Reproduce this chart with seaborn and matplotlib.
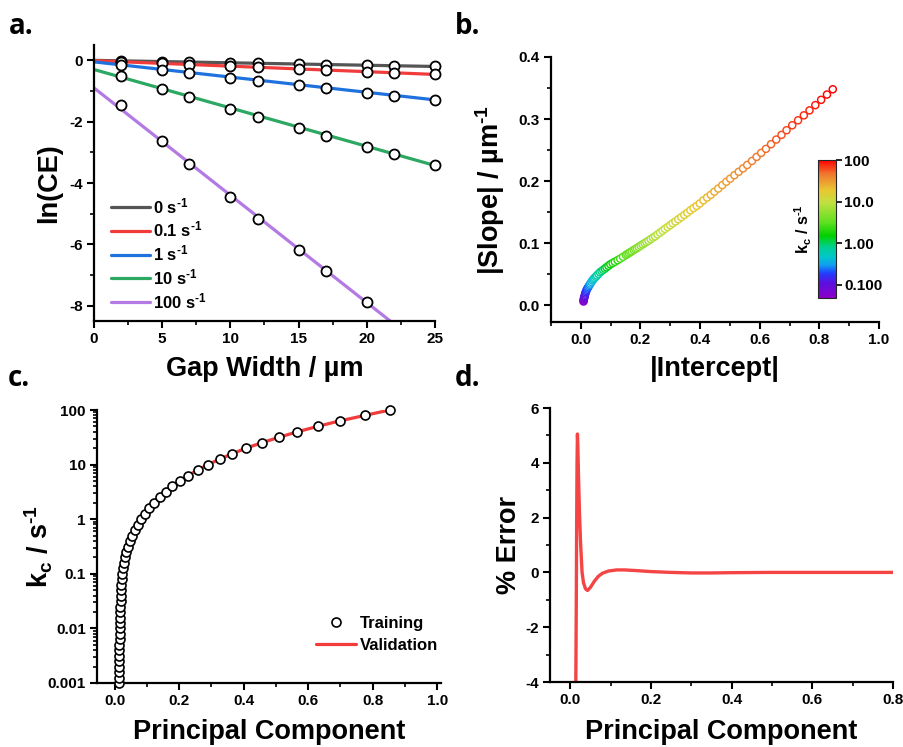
import matplotlib
matplotlib.use("Agg")
import matplotlib.pyplot as plt
import seaborn as sns
from matplotlib.colors import LogNorm, LinearSegmentedColormap
from matplotlib.ticker import MultipleLocator, FixedLocator, FixedFormatter, LogLocator, NullFormatter
from matplotlib.cm import ScalarMappable
from matplotlib.lines import Line2D

# ---- panel a: ln(CE) vs gap width ----
a_labels = ["0 s$^{\u20101}$", "0.1 s$^{\u20101}$", "1 s$^{\u20101}$", "10 s$^{\u20101}$", "100 s$^{\u20101}$"]
a_colors = ["#555555", "#f23c3c", "#1f72de", "#2ca862", "#b47ae4"]
a_fit_gap = [0, 25]
a_fit = [
    [0.0, -0.20],
    [-0.01, -0.46],
    [-0.05, -1.29],
    [-0.30, -3.43],
    [-0.90, -9.65],
]
a_gap = [2, 5, 7, 10, 12, 15, 17, 20, 22, 25]
a_sim = [
    [-0.02, -0.04, -0.06, -0.08, -0.10, -0.12, -0.14, -0.16, -0.18, -0.20],
    [-0.05, -0.10, -0.14, -0.19, -0.23, -0.29, -0.32, -0.38, -0.41, -0.46],
    [-0.16, -0.32, -0.41, -0.57, -0.66, -0.81, -0.91, -1.05, -1.15, -1.29],
    [-0.51, -0.93, -1.20, -1.60, -1.86, -2.22, -2.47, -2.83, -3.07, -3.42],
    [-1.47, -2.64, -3.38, -4.45, -5.16, -6.17, -6.86, -7.88],
]

# ---- panel b: |slope| vs |intercept| coloured by kc ----
b_kc = [0.0501, 0.0562, 0.0631, 0.0708, 0.0794, 0.0891, 0.100, 0.112, 0.126, 0.141,
        0.158, 0.178, 0.200, 0.224, 0.251, 0.282, 0.316, 0.355, 0.398, 0.447,
        0.501, 0.562, 0.631, 0.708, 0.794, 0.891, 1.00, 1.12, 1.26, 1.41,
        1.58, 1.78, 2.00, 2.24, 2.51, 2.82, 3.16,
        3.35, 3.55, 3.76, 3.98, 4.22, 4.47, 4.73, 5.01, 5.31, 5.62,
        5.96, 6.31, 6.68, 7.08, 7.50, 7.94, 8.41, 8.91, 9.44, 10.0,
        10.6, 11.2, 11.9, 12.6, 13.3, 14.1, 15.0, 15.8, 16.8, 17.8,
        18.8, 20.0, 21.1, 22.4, 23.7, 25.1, 26.6, 28.2, 29.9, 31.6,
        33.5, 35.5, 37.6, 39.8, 42.2, 44.7, 47.3, 50.1, 53.1, 56.2,
        59.6, 63.1, 66.8, 70.8, 75.0, 79.4, 84.1, 89.1, 94.4, 100]
b_intercept = [0.009, 0.0095, 0.010, 0.0105, 0.011, 0.012, 0.013, 0.014, 0.015, 0.0165,
               0.018, 0.020, 0.022, 0.0245, 0.027, 0.0295, 0.032, 0.0355, 0.039, 0.0425,
               0.046, 0.050, 0.054, 0.059, 0.064, 0.0695, 0.075, 0.0805, 0.086, 0.0925,
               0.099, 0.1065, 0.114, 0.123, 0.132, 0.1415, 0.151,
               0.156, 0.161, 0.166, 0.171, 0.177, 0.1825, 0.188, 0.194, 0.2005, 0.207,
               0.2135, 0.220, 0.227, 0.2345, 0.242, 0.249, 0.257, 0.2655, 0.274, 0.282,
               0.291, 0.2995, 0.308, 0.317, 0.327, 0.337, 0.347, 0.357, 0.3675, 0.378,
               0.3885, 0.399, 0.411, 0.4235, 0.436, 0.448, 0.461, 0.4745, 0.488, 0.501,
               0.515, 0.5295, 0.544, 0.558, 0.574, 0.5895, 0.605, 0.621, 0.638, 0.6555,
               0.673, 0.690, 0.709, 0.7285, 0.748, 0.767, 0.7865, 0.806, 0.8255, 0.845]
b_slope = [0.006, 0.0075, 0.009, 0.0105, 0.012, 0.0135, 0.015, 0.017, 0.019, 0.021,
           0.023, 0.025, 0.027, 0.029, 0.031, 0.033, 0.035, 0.0375, 0.040, 0.042,
           0.044, 0.046, 0.048, 0.0505, 0.053, 0.055, 0.057, 0.059, 0.061, 0.0635,
           0.066, 0.068, 0.070, 0.0725, 0.075, 0.078, 0.081,
           0.0825, 0.084, 0.0855, 0.087, 0.089, 0.0905, 0.092, 0.094, 0.096, 0.098,
           0.100, 0.102, 0.104, 0.1065, 0.109, 0.111, 0.114, 0.117, 0.120, 0.123,
           0.126, 0.129, 0.132, 0.135, 0.1385, 0.142, 0.1455, 0.149, 0.153, 0.1565,
           0.160, 0.164, 0.169, 0.1735, 0.178, 0.183, 0.188, 0.1935, 0.199, 0.204,
           0.2095, 0.215, 0.2205, 0.226, 0.2325, 0.239, 0.2455, 0.252, 0.2595, 0.267,
           0.2745, 0.282, 0.290, 0.298, 0.306, 0.314, 0.3225, 0.331, 0.3395, 0.348]
cbar_ticks = [0.1, 1, 10, 100]
cbar_ticklabels = ["0.100", "1.00", "10.0", "100"]

# ---- panel c: kc vs principal component ----
c_kc = [0.001, 0.00126, 0.00158, 0.002, 0.00251, 0.00316, 0.00398, 0.00501, 0.00631, 0.00794,
        0.01, 0.0126, 0.0158, 0.02, 0.0251, 0.0316, 0.0398, 0.0501, 0.0631, 0.0794,
        0.1, 0.126, 0.158, 0.2, 0.251, 0.316, 0.398, 0.501, 0.631, 0.794,
        1, 1.26, 1.58, 2, 2.51, 3.16, 3.98, 5.01, 6.31, 7.94,
        10, 12.6, 15.8, 20, 25.1, 31.6, 39.8, 50.1, 63.1, 79.4, 100]
c_pc = [0.0135, 0.0136, 0.0137, 0.0138, 0.0140, 0.0141, 0.0143, 0.0145, 0.0148, 0.0151,
        0.0154, 0.0158, 0.0162, 0.0167, 0.0173, 0.0180, 0.0188, 0.0197, 0.0208, 0.0221,
        0.0236, 0.0255, 0.028, 0.031, 0.036, 0.041, 0.048, 0.055, 0.063, 0.073,
        0.083, 0.094, 0.107, 0.122, 0.140, 0.159, 0.179, 0.202, 0.228, 0.257,
        0.290, 0.325, 0.365, 0.407, 0.456, 0.509, 0.566, 0.629, 0.698, 0.775, 0.853]
c_yticks = [0.001, 0.01, 0.1, 1, 10, 100]
c_yticklabels = ["0.001", "0.01", "0.1", "1", "10", "100"]

# ---- panel d: % error vs principal component ----
d_pc = [0.0137, 0.0150, 0.0160, 0.0170, 0.0180, 0.0190, 0.0205, 0.0230, 0.0260, 0.0295,
        0.0330, 0.0380, 0.0430, 0.0500, 0.0600, 0.0700, 0.0800, 0.0950, 0.115, 0.135,
        0.160, 0.200, 0.250, 0.300, 0.350, 0.400, 0.500, 0.600, 0.800]
d_err = [-4.6, -1.5, 1.6, 4.0, 5.05, 4.6, 3.6, 2.2, 1.0, 0.0,
         -0.38, -0.6, -0.66, -0.55, -0.32, -0.14, -0.03, 0.05, 0.09, 0.09,
         0.07, 0.03, 0.0, -0.02, -0.02, -0.01, 0.0, 0.0, 0.0]

sns.set_style("ticks")
plt.rcParams["font.family"] = ["Liberation Sans", "DejaVu Sans"]
plt.rcParams["font.weight"] = "bold"
plt.rcParams["axes.labelweight"] = "bold"
plt.rcParams["text.color"] = "black"
plt.rcParams["axes.labelcolor"] = "black"
plt.rcParams["axes.unicode_minus"] = False
plt.rcParams["mathtext.fontset"] = "custom"
plt.rcParams["mathtext.rm"] = "Liberation Sans:bold"
plt.rcParams["mathtext.it"] = "Liberation Sans:bold"
plt.rcParams["mathtext.bf"] = "Liberation Sans:bold"
plt.rcParams["mathtext.default"] = "rm"

W, H = 904, 747
fig = plt.figure(figsize=(W / 100, H / 100), dpi=100)


def px_axes(left, top, right, bottom):
    return fig.add_axes([left / W, 1 - bottom / H, (right - left) / W, (bottom - top) / H])


def style_axes(ax, xlab_y, ylab_x):
    sns.despine(ax=ax)
    for side in ["left", "bottom"]:
        ax.spines[side].set_linewidth(1.6)
        ax.spines[side].set_color("black")
    ax.tick_params(which="major", length=5, width=1.5, labelsize=11, colors="black", pad=3)
    ax.tick_params(which="minor", length=3, width=1.2, colors="black")
    for lab in ax.get_xticklabels() + ax.get_yticklabels():
        lab.set_fontweight("bold")
    ax.xaxis.set_label_coords(0.5, xlab_y)
    ax.yaxis.set_label_coords(ylab_x, 0.5)


label_kw = dict(fontsize=19.5, fontweight="bold")
sup = "$^{\u20101}$"

# Panel a
ax_a = px_axes(94, 45, 435, 321)
for lab, col, fit, sim in zip(a_labels, a_colors, a_fit, a_sim):
    sns.lineplot(x=a_fit_gap, y=fit, color=col, lw=2.3, ax=ax_a, label=lab)
    sns.scatterplot(x=a_gap[:len(sim)], y=sim, color="white", edgecolor="black",
                    s=52, linewidth=1.3, ax=ax_a, zorder=3, legend=False, clip_on=False)
ax_a.set_xlim(0, 25)
ax_a.set_ylim(-8.5, 0.5)
ax_a.xaxis.set_major_locator(MultipleLocator(5))
ax_a.xaxis.set_minor_locator(MultipleLocator(2.5))
ax_a.yaxis.set_major_locator(MultipleLocator(2))
ax_a.yaxis.set_minor_locator(MultipleLocator(1))
ax_a.set_xlabel("Gap Width / µm", **label_kw)
ax_a.set_ylabel("ln(CE)", **label_kw)
ax_a.legend(loc="lower left", bbox_to_anchor=(0.02, 0.0), frameon=False,
            handlelength=2.35, handletextpad=0.2, labelspacing=0.23, borderaxespad=0.2,
            prop={"weight": "bold", "size": 12})
style_axes(ax_a, -0.125, -0.094)

# Panel b
cmap = LinearSegmentedColormap.from_list("origin_rainbow", [
    (0.0, "#8a00c8"), (0.11, "#5a10e0"), (0.18, "#2040ff"), (0.24, "#10a0f0"),
    (0.30, "#00c8c8"), (0.37, "#00d090"), (0.45, "#00d000"), (0.55, "#60e020"),
    (0.69, "#c0e040"), (0.78, "#e8c830"), (0.90, "#f07830"), (1.0, "#ff0000")])
norm = LogNorm(vmin=0.048, vmax=100)

ax_b = px_axes(551, 57, 879, 322)
sns.scatterplot(x=b_intercept, y=b_slope, hue=b_kc, hue_norm=norm, palette=cmap,
                s=26, linewidth=1.05, legend=False, ax=ax_b)
pts = ax_b.collections[-1]
pts.set_edgecolors(pts.get_facecolors())
pts.set_facecolors("white")
ax_b.set_xlim(-0.1, 1.0)
ax_b.set_ylim(-0.027, 0.4)
ax_b.xaxis.set_major_locator(MultipleLocator(0.2))
ax_b.xaxis.set_minor_locator(MultipleLocator(0.1))
ax_b.yaxis.set_major_locator(MultipleLocator(0.1))
ax_b.yaxis.set_minor_locator(MultipleLocator(0.05))
ax_b.set_xlabel("|Intercept|", **label_kw)
ax_b.set_ylabel("|Slope| / µm" + sup, **label_kw)
style_axes(ax_b, -0.128, -0.134)

cax = px_axes(818, 160, 836, 298)
cb = fig.colorbar(ScalarMappable(norm=norm, cmap=cmap), cax=cax)
cb.outline.set_linewidth(0.8)
cb.set_ticks(cbar_ticks)
cb.set_ticklabels(cbar_ticklabels)
cb.minorticks_off()
cax.tick_params(length=4, width=1.2, labelsize=11, colors="black", pad=2)
for lab in cax.get_yticklabels():
    lab.set_fontweight("bold")
cax.yaxis.set_label_position("left")
cax.set_ylabel("k$_c$ / s" + sup, fontsize=11.5, fontweight="bold", labelpad=3)

# Panel c
ax_c = px_axes(97, 410, 441, 683)
sns.lineplot(x=c_pc, y=c_kc, color="#f23c3c", lw=2.3, ax=ax_c, zorder=2)
sns.scatterplot(x=c_pc, y=c_kc, color="white", edgecolor="black", s=42, linewidth=1.2,
                ax=ax_c, zorder=3, clip_on=False)
ax_c.set_yscale("log")
ax_c.set_xlim(-0.055, 1.012)
ax_c.set_ylim(0.001, 100)
ax_c.xaxis.set_major_locator(MultipleLocator(0.2))
ax_c.xaxis.set_minor_locator(MultipleLocator(0.1))
ax_c.yaxis.set_major_locator(FixedLocator(c_yticks))
ax_c.yaxis.set_major_formatter(FixedFormatter(c_yticklabels))
ax_c.yaxis.set_minor_locator(LogLocator(base=10, subs=range(2, 10), numticks=20))
ax_c.yaxis.set_minor_formatter(NullFormatter())
ax_c.set_xlabel("Principal Component", **label_kw)
ax_c.set_ylabel("k$_c$ / s" + sup, **label_kw)
handles = [Line2D([], [], ls="none", marker="o", markerfacecolor="white", markeredgecolor="black",
                  markersize=6.5, markeredgewidth=1.2),
           Line2D([], [], color="#f23c3c", lw=2.3)]
ax_c.legend(handles, ["Training", "Validation"], loc="lower right", bbox_to_anchor=(1.01, 0.085),
            frameon=False, handlelength=2.4, handletextpad=0.2, labelspacing=0.42,
            borderaxespad=0, prop={"weight": "bold", "size": 12})
style_axes(ax_c, -0.132, -0.122)

# Panel d
ax_d = px_axes(550, 408, 893, 682)
sns.lineplot(x=d_pc, y=d_err, color="#f44444", lw=2.4, ax=ax_d)
ax_d.set_xlim(-0.05, 0.8)
ax_d.set_ylim(-4, 6)
ax_d.xaxis.set_major_locator(MultipleLocator(0.2))
ax_d.xaxis.set_minor_locator(MultipleLocator(0.1))
ax_d.yaxis.set_major_locator(MultipleLocator(2))
ax_d.yaxis.set_minor_locator(MultipleLocator(1))
ax_d.set_xlabel("Principal Component", **label_kw)
ax_d.set_ylabel("% Error", **label_kw)
style_axes(ax_d, -0.135, -0.082)

# panel letters
for letter, x, y in [("a.", 9, 34), ("b.", 455, 34), ("c.", 8, 386), ("d.", 455, 386)]:
    fig.text(x / W, 1 - y / H, letter, fontsize=20, fontweight="bold", color="black",
             family=["Open Sans", "DejaVu Sans"], va="baseline", ha="left")

fig.savefig("out.png", dpi=100)
